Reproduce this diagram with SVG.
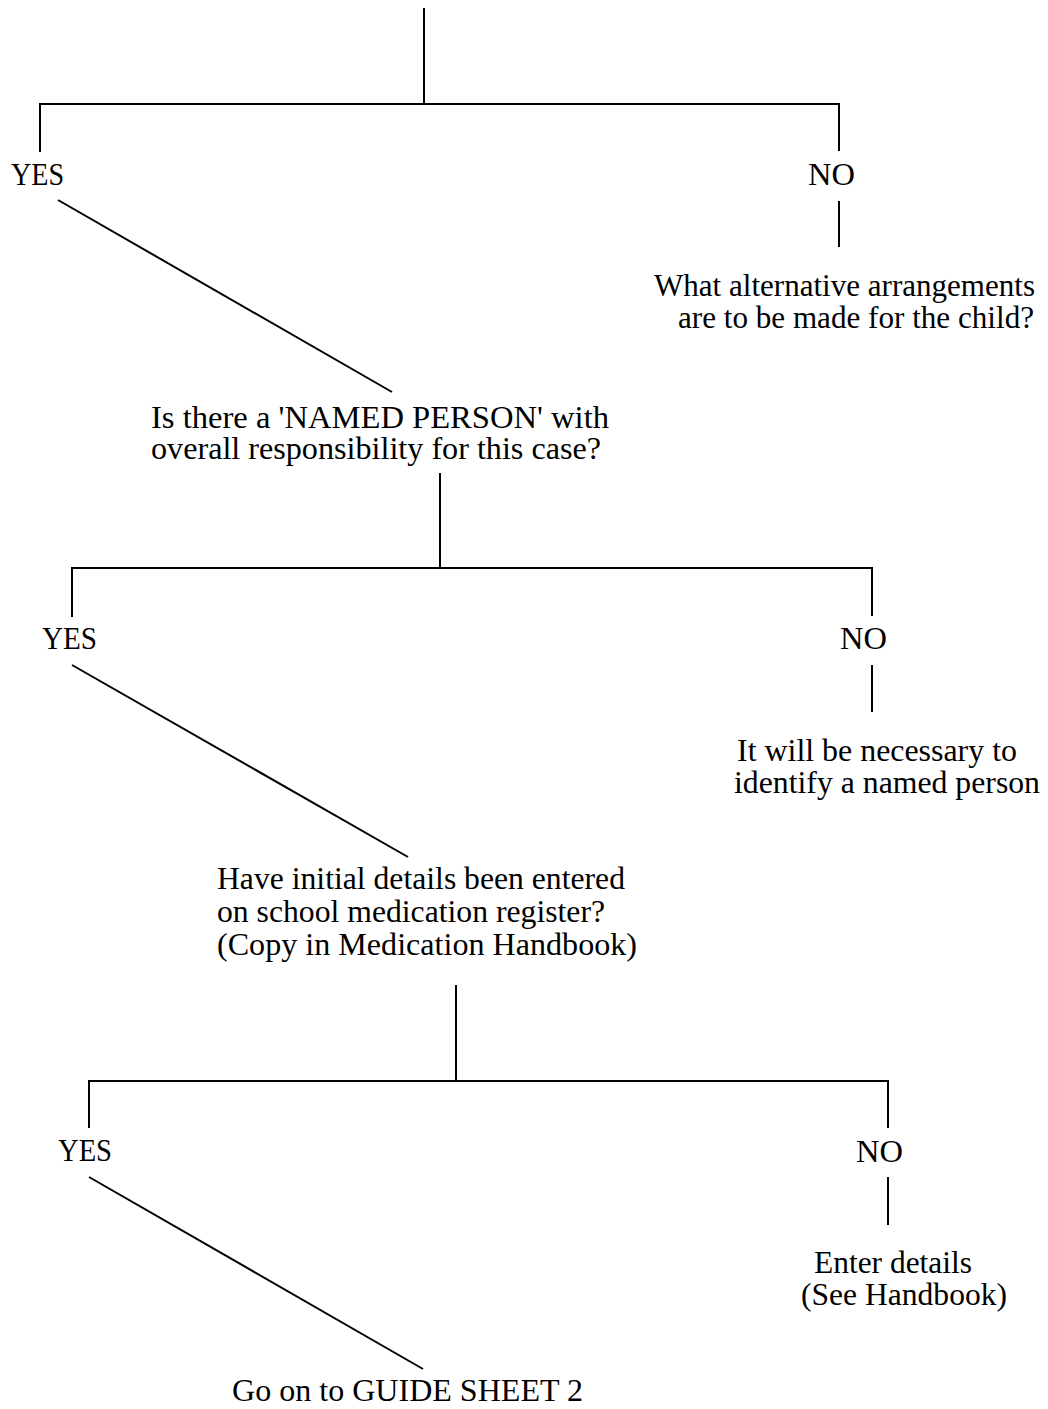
<svg xmlns="http://www.w3.org/2000/svg" width="1048" height="1409" viewBox="0 0 1048 1409">
<style>
text{font-family:"Liberation Serif","Times New Roman",serif;font-size:32px;fill:#000}
.c line{stroke:#000;stroke-width:2;fill:none}
</style>
<rect width="1048" height="1409" fill="#fff"/>
<g id="connectors" class="c">
<line x1="424" y1="8" x2="424" y2="104"/>
<line x1="40" y1="104" x2="839" y2="104"/>
<line x1="40" y1="103" x2="40" y2="152"/>
<line x1="839" y1="103" x2="839" y2="151"/>
<line x1="839" y1="201" x2="839" y2="247"/>
<line x1="58" y1="200" x2="392" y2="392"/>
<line x1="440" y1="473" x2="440" y2="568"/>
<line x1="72" y1="568" x2="872" y2="568"/>
<line x1="72" y1="567" x2="72" y2="617"/>
<line x1="872" y1="567" x2="872" y2="616"/>
<line x1="872" y1="665" x2="872" y2="712"/>
<line x1="72" y1="665" x2="408" y2="857"/>
<line x1="456" y1="985" x2="456" y2="1081"/>
<line x1="89" y1="1081" x2="888" y2="1081"/>
<line x1="89" y1="1080" x2="89" y2="1128"/>
<line x1="888" y1="1080" x2="888" y2="1128"/>
<line x1="888" y1="1177" x2="888" y2="1225"/>
<line x1="89" y1="1177" x2="423" y2="1369"/>
</g>
<g id="yes1"><text x="11" y="185" textLength="53" lengthAdjust="spacingAndGlyphs">YES</text></g>
<g id="no1"><text x="808" y="185" textLength="47" lengthAdjust="spacingAndGlyphs">NO</text></g>
<g id="alt"><text x="654" y="296" textLength="381" lengthAdjust="spacingAndGlyphs">What alternative arrangements</text>
<text x="678" y="328" textLength="356" lengthAdjust="spacingAndGlyphs">are to be made for the child?</text></g>
<g id="named"><text x="151" y="428" textLength="458" lengthAdjust="spacingAndGlyphs">Is there a 'NAMED PERSON' with</text>
<text x="151" y="459" textLength="450" lengthAdjust="spacingAndGlyphs">overall responsibility for this case?</text></g>
<g id="yes2"><text x="42" y="649" textLength="55" lengthAdjust="spacingAndGlyphs">YES</text></g>
<g id="no2"><text x="840" y="649" textLength="47" lengthAdjust="spacingAndGlyphs">NO</text></g>
<g id="identify"><text x="737" y="761" textLength="280" lengthAdjust="spacingAndGlyphs">It will be necessary to</text>
<text x="734" y="793" textLength="306" lengthAdjust="spacingAndGlyphs">identify a named person</text></g>
<g id="register"><text x="217" y="889" textLength="408" lengthAdjust="spacingAndGlyphs">Have initial details been entered</text>
<text x="217" y="922" textLength="388" lengthAdjust="spacingAndGlyphs">on school medication register?</text>
<text x="217" y="955" textLength="420" lengthAdjust="spacingAndGlyphs">(Copy in Medication Handbook)</text></g>
<g id="yes3"><text x="58" y="1161" textLength="54" lengthAdjust="spacingAndGlyphs">YES</text></g>
<g id="no3"><text x="856" y="1162" textLength="47" lengthAdjust="spacingAndGlyphs">NO</text></g>
<g id="enter"><text x="814" y="1273" textLength="158" lengthAdjust="spacingAndGlyphs">Enter details</text>
<text x="801" y="1305" textLength="206" lengthAdjust="spacingAndGlyphs">(See Handbook)</text></g>
<g id="guide"><text x="232" y="1401" textLength="351" lengthAdjust="spacingAndGlyphs">Go on to GUIDE SHEET 2</text></g>
</svg>
